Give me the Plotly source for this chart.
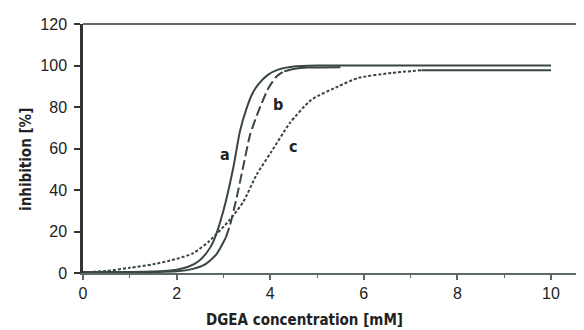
import plotly.graph_objects as go

# Data
a_x = [0, 1, 1.5, 2.0, 2.25, 2.47, 2.65, 2.79, 3.0, 3.21, 3.35, 3.49, 3.62, 3.75, 3.95, 4.17, 4.5, 5, 7, 10]
a_y = [0.5, 0.5, 0.7, 1.6, 3, 5.7, 10, 15.4, 30, 50.6, 68, 79, 86.5, 91, 95.5, 98, 99.5, 100, 100, 100]

b_low_x = [0, 1, 2.0, 2.35, 2.6, 2.85, 3.05]
b_low_y = [0.3, 0.3, 0.8, 2.0, 4.0, 9.0, 17]
b_mid_x = [3.05, 3.14, 3.28, 3.43, 3.57, 3.75, 3.96, 4.14, 4.3]
b_mid_y = [17, 23, 36, 52, 66.6, 78, 89, 94.8, 97.2]
b_top_x = [4.3, 4.5, 4.8, 5.5]
b_top_y = [97.2, 98.3, 99, 99.2]

c_x = [0, 0.5, 1, 1.5, 2, 2.35, 2.68, 3.14, 3.43, 3.71, 4.03, 4.42, 4.88, 5.46, 5.88, 6.59, 7.23]
c_y = [0.3, 1, 2.5, 4.2, 6.8, 9.5, 15, 25.7, 34.5, 47.4, 58.6, 72.3, 83.5, 90, 94, 96.4, 97.7]
c_tail_x = [7.23, 10]
c_tail_y = [97.7, 97.7]

labels = ["a", "b", "c"]
label_x = [3.03, 4.17, 4.49]
label_y = [57, 81, 61]

x_ticks = [0, 2, 4, 6, 8, 10]
y_ticks = [0, 20, 40, 60, 80, 100, 120]

LINE = "#3a4545"
fig = go.Figure()

def add(x, y, dash="solid"):
    fig.add_trace(go.Scatter(x=x, y=y, mode="lines",
                             line=dict(color=LINE, width=2, dash=dash, shape="spline", smoothing=0.6),
                             showlegend=False, hoverinfo="skip"))

add(c_x, c_y, "3px,2px")
add(c_tail_x, c_tail_y)
add(b_low_x, b_low_y)
add(b_mid_x, b_mid_y, "10px,4px")
add(b_top_x, b_top_y)
add(a_x, a_y)

COND = "DejaVu Sans Condensed, Liberation Sans Narrow, Arial Narrow, sans-serif"
lab_font = dict(family=COND, size=16, color="#222")
for t, x, y in zip(labels, label_x, label_y):
    fig.add_annotation(x=x, y=y, text="<b>%s</b>" % t, showarrow=False, font=lab_font)

fig.add_annotation(xref="paper", yref="paper", x=0.436, y=-0.19, text="<b>DGEA concentration [mM]</b>",
                   showarrow=False, font=dict(family=COND, size=15, color="#222"),
                   xanchor="center", yanchor="middle")
fig.add_annotation(xref="paper", yref="paper", x=-0.112, y=0.458, text="<b>inhibition [%]</b>",
                   showarrow=False, font=dict(family=COND, size=15, color="#222"),
                   textangle=-90, xanchor="center", yanchor="middle")

tick_font = dict(family="Liberation Sans, Arial, sans-serif", size=16, color="#222")
fig.update_xaxes(range=[0, 509 / 46.8], tickvals=x_ticks, ticks="outside", ticklen=5, tickwidth=1.5,
                 tickcolor="#5f6868", showline=True, linecolor="#5f6868", linewidth=2, mirror=False,
                 showgrid=False, zeroline=False, tickfont=tick_font,
                 minor=dict(dtick=1, tick0=0, ticks="outside", ticklen=3, tickcolor="#5f6868", tickwidth=1))
fig.update_yaxes(range=[0, 120], tickvals=y_ticks, ticks="outside", ticklen=6, tickwidth=1.5,
                 tickcolor="#333", showline=True, linecolor="#333", linewidth=2.5,
                 showgrid=False, zeroline=False, tickfont=tick_font, ticklabelstandoff=4)
# top frame line
fig.add_shape(type="line", xref="paper", yref="paper", x0=0, x1=1, y0=1, y1=1,
              line=dict(color="#333", width=1.5))

fig.update_layout(width=584, height=330, margin=dict(l=75, r=0, t=16, b=65),
                  plot_bgcolor="white", paper_bgcolor="white")
fig.write_html("out.html")
